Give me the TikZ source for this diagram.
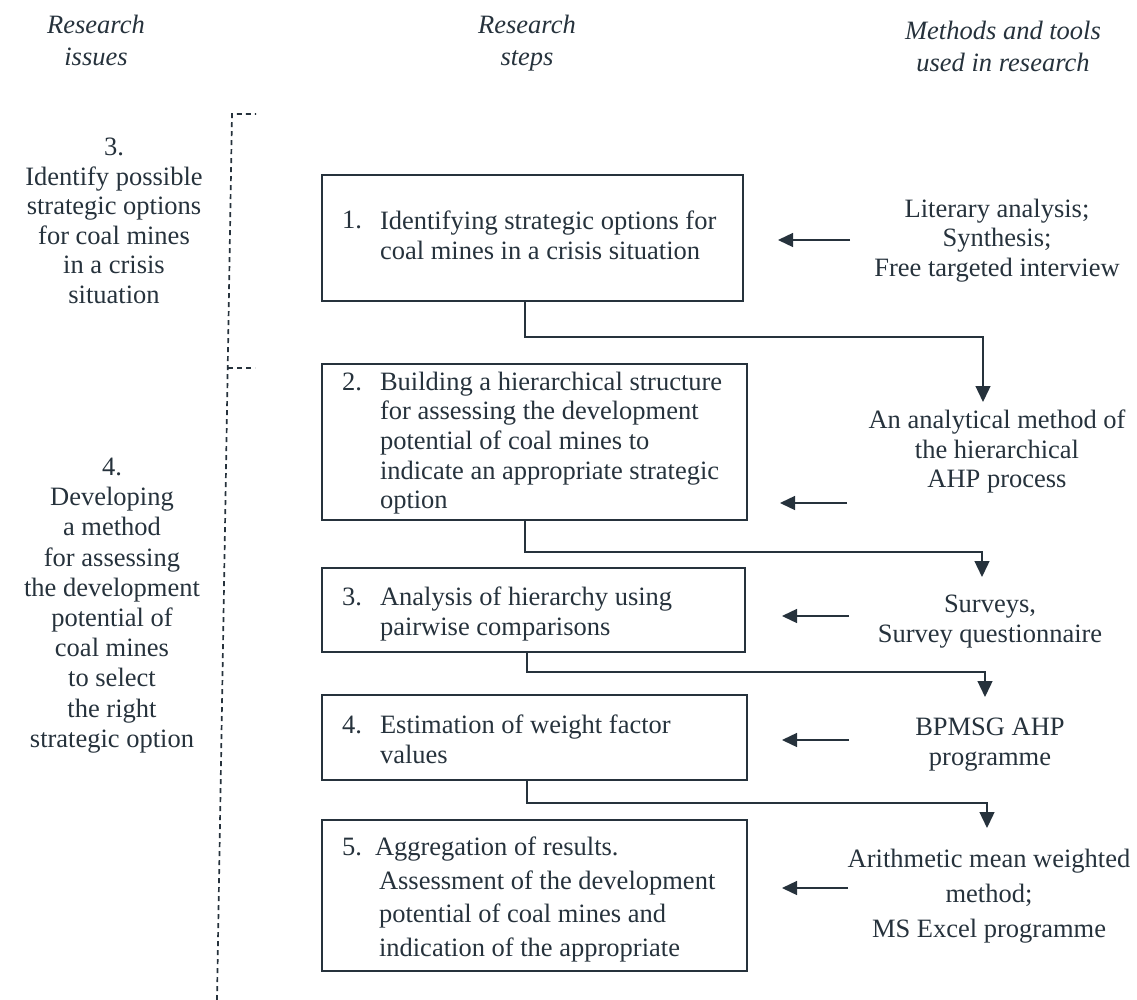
\documentclass[tikz,border=0pt]{standalone}
\usepackage{fontspec}
\setmainfont{Liberation Serif}
\usetikzlibrary{arrows.meta}
\definecolor{ink}{RGB}{38,50,60}
\begin{document}
\begin{tikzpicture}[x=1pt,y=-1pt,
  every node/.style={inner sep=0pt,outer sep=0pt,text=ink},
  txt/.style={font=\fontsize{26.5}{29.6}\selectfont},
  head/.style={font=\fontsize{26.5}{32}\selectfont\itshape,align=center,anchor=north},
  colL/.style={txt,align=center,anchor=north},
  colR/.style={txt,align=center,anchor=north},
  stepbox/.style={draw=ink,line width=1.8pt,anchor=north west},
  steptext/.style={txt,align=left,anchor=north west},
  num/.style={txt,anchor=base west},
  link/.style={draw=ink,line width=1.4pt,-{Triangle[length=16pt,width=15pt]}},
  feed/.style={draw=ink,line width=1.4pt,-{Triangle[length=15pt,width=14pt]}},
  bracket/.style={draw=ink,line width=1.7pt,dash pattern=on 5pt off 4pt}]
\useasboundingbox (0,0) rectangle (1137,1000);

% column headings
\node[head] (h1) at (96,15) {Research\\issues};
\node[head] (h2) at (527,15) {Research\\steps};
\node[head] (h3) at (1003,21) {Methods and tools\\used in research};

% research issues
\node[colL] (i3) at (114,138) {3.\\Identify possible\\strategic options\\for coal mines\\in a crisis\\situation};
\node[colL,font=\fontsize{26.5}{30.2}\selectfont] (i4) at (112,458) {4.\\Developing\\a method\\for assessing\\the development\\potential of\\coal mines\\to select\\the right\\strategic option};

% dashed bracket separating the issues
\coordinate (bt) at (232,114);
\coordinate (bb) at (217,1000);
\coordinate (bm) at (228,368);
\draw[bracket] (bb) -- (bt) -- ++(24,0);
\draw[bracket] (bm) -- ++(27,0);

% research steps
\node[stepbox,minimum width=421pt,minimum height=126pt] (s1) at (322,175) {};
\node[num] (n1) at (342,229) {1.};
\node[steptext] (t1) at (380,211) {Identifying strategic options for\\coal mines in a crisis situation};

\node[stepbox,minimum width=425pt,minimum height=156pt] (s2) at (322,364) {};
\node[num] (n2) at (342,390) {2.};
\node[steptext] (t2) at (380,372) {Building a hierarchical structure\\for assessing the development\\potential of coal mines to\\indicate an appropriate strategic\\option};

\node[stepbox,minimum width=423pt,minimum height=84pt] (s3) at (322,568) {};
\node[num] (n3) at (342,605) {3.};
\node[steptext] (t3) at (380,587) {Analysis of hierarchy using\\pairwise comparisons};

\node[stepbox,minimum width=425pt,minimum height=85pt] (s4) at (322,695) {};
\node[num] (n4) at (342,733) {4.};
\node[steptext] (t4) at (380,715) {Estimation of weight factor\\values};

\node[stepbox,minimum width=425pt,minimum height=151pt] (s5) at (322,820) {};
\node[num] (n5) at (342,855) {5.};
\node[steptext,font=\fontsize{26.5}{33.5}\selectfont] (t5) at (375,837) {Aggregation of results.\\\hspace*{4pt}Assessment of the development\\\hspace*{4pt}potential of coal mines and\\\hspace*{4pt}indication of the appropriate};

% methods and tools
\node[colR] (m1) at (997,199) {Literary analysis;\\Synthesis;\\Free targeted interview};
\node[colR] (m2) at (997,410) {An analytical method of\\the hierarchical\\AHP process};
\node[colR] (m3) at (990,595) {Surveys,\\Survey questionnaire};
\node[colR] (m4) at (990,718) {BPMSG AHP\\programme};
\node[colR,font=\fontsize{26.5}{35}\selectfont] (m5) at (989,849) {Arithmetic mean weighted\\method;\\MS Excel programme};

% flow from each step to the next method
\draw[link] (s1.south west -| 525,0) |- (983,337) -- (983,402);
\draw[link] (s2.south west -| 525,0) |- (982,552) -- (982,577);
\draw[link] (s3.south west -| 527,0) |- (985,672) -- (985,697);
\draw[link] (s4.south west -| 527,0) |- (987,803) -- (987,828);

% methods feeding the steps
\draw[feed] (850,240) -- (778,240);
\draw[feed] (847,503) -- (780,503);
\draw[feed] (849,616) -- (782,616);
\draw[feed] (849,740) -- (782,740);
\draw[feed] (848,888) -- (782,888);
\end{tikzpicture}
\end{document}
